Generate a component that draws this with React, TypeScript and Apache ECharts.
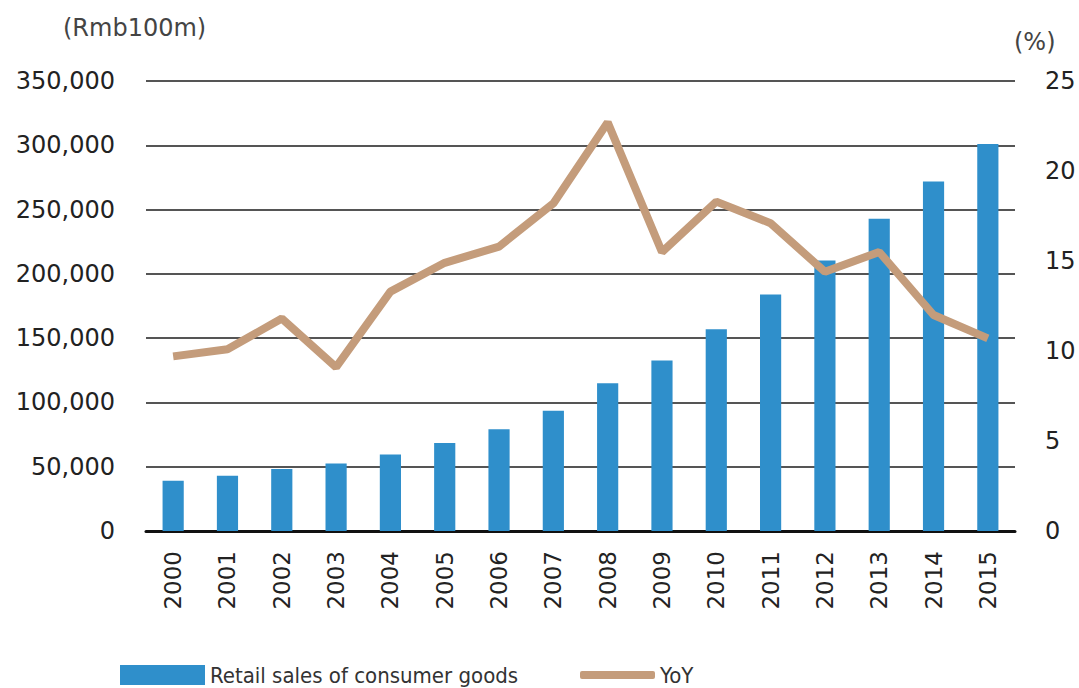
import React, { useEffect, useRef } from "react";
import * as echarts from "echarts";

const years = ["2000","2001","2002","2003","2004","2005","2006","2007","2008","2009","2010","2011","2012","2013","2014","2015"];
const retailSales = [39106, 43055, 48136, 52516, 59501, 68353, 79145, 93572, 114830, 132678, 156998, 183919, 210307, 242843, 271896, 300931];
const yoy = [9.7, 10.1, 11.8, 9.1, 13.3, 14.9, 15.8, 18.2, 22.7, 15.5, 18.3, 17.1, 14.4, 15.5, 12.0, 10.7];
const barName = "Retail sales of consumer goods";
const lineName = "YoY";

const axisFont = "'DejaVu Sans', sans-serif";
const legendFont = "'DejaVu Sans Condensed', 'Liberation Sans', sans-serif";

export default function App() {
  const ref = useRef<HTMLDivElement>(null);
  useEffect(() => {
    const chart = echarts.init(ref.current!, null, { renderer: "svg" });
    chart.setOption({
      animation: false,
      backgroundColor: "#ffffff",
      grid: { left: 146, right: 64, top: 81, bottom: 157 },
      legend: [
        {
          data: [barName],
          left: 120,
          top: 664,
          padding: 0,
          icon: "rect",
          itemWidth: 85,
          itemHeight: 20,
          itemGap: 5,
          textStyle: { fontFamily: legendFont, fontSize: 22, color: "#333" },
        },
        {
          data: [lineName],
          left: 580,
          top: 664,
          padding: 0,
          icon: "roundRect",
          itemWidth: 75,
          itemHeight: 8,
          textStyle: { fontFamily: legendFont, fontSize: 22, color: "#333" },
        },
      ],
      graphic: [
        { type: "text", left: 63, top: 16, style: { text: "(Rmb100m)", fontFamily: axisFont, fontSize: 24, fill: "#444" } },
        { type: "text", left: 1014, top: 30, style: { text: "(%)", fontFamily: axisFont, fontSize: 24, fill: "#444" } },
      ],
      xAxis: {
        type: "category",
        data: years,
        axisTick: { show: false },
        axisLine: { lineStyle: { color: "#111", width: 3 } },
        axisLabel: { rotate: 90, fontFamily: axisFont, fontSize: 23, color: "#222", margin: 20 },
      },
      yAxis: [
        {
          type: "value",
          min: 0,
          max: 350000,
          interval: 50000,
          axisLine: { show: false },
          axisTick: { show: false },
          splitLine: { lineStyle: { color: "#555", width: 2 } },
          axisLabel: {
            fontFamily: axisFont,
            fontSize: 24,
            color: "#222",
            margin: 31,
            formatter: (v: number) => v.toLocaleString("en-US"),
          },
        },
        {
          type: "value",
          min: 0,
          max: 25,
          interval: 5,
          axisLine: { show: false },
          axisTick: { show: false },
          splitLine: { show: false },
          axisLabel: { fontFamily: axisFont, fontSize: 24, color: "#222", margin: 30 },
        },
      ],
      series: [
        {
          name: barName,
          type: "bar",
          data: retailSales,
          barWidth: "39%",
          itemStyle: { color: "#2F8FCB" },
        },
        {
          name: lineName,
          type: "line",
          yAxisIndex: 1,
          data: yoy,
          symbol: "none",
          lineStyle: { color: "#C49C7B", width: 8 },
          itemStyle: { color: "#C49C7B" },
          z: 5,
        },
      ],
    });
    return () => chart.dispose();
  }, []);
  return <div ref={ref} style={{ position: "fixed", left: 0, top: 0, width: 1079, height: 688 }} />;
}
